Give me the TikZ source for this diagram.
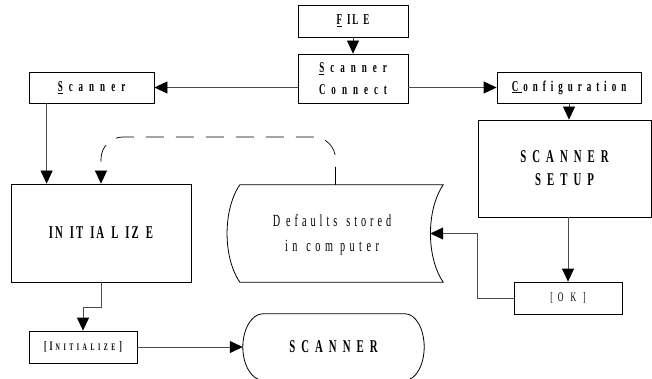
\documentclass[tikz,border=0pt]{standalone}
\usepackage{fontspec}
\setmainfont{Liberation Serif}
% narrow serif used for all labels
\newfontfamily\lblfont[FakeStretch=0.6]{Liberation Serif}
% \trk{gap}{letters}: sets the letters with a fixed gap between them
\ExplSyntaxOn
\NewDocumentCommand\trk{mm}{ \tl_map_inline:nn {#2} { ##1 \kern #1 \scan_stop: } \unkern }
\ExplSyntaxOff
\usetikzlibrary{arrows.meta,calc}

\begin{document}
\begin{tikzpicture}[x=1pt,y=-1pt,
  box/.style={draw=black, line width=0.8pt, inner sep=0pt, align=center},
  plain/.style={inner sep=0pt, align=center},
  bigbold/.style={font=\lblfont\bfseries\fontsize{18}{23}\selectfont},
  midbold/.style={font=\lblfont\bfseries\fontsize{15}{22}\selectfont},
  regtext/.style={font=\lblfont\fontsize{17}{25}\selectfont},
  tip/.style={-{Triangle[width=12pt,length=13pt,color=black]}},
  link/.style={draw=black!70, line width=0.8pt, tip},
  dashlink/.style={draw=black, line width=0.7pt, dash pattern=on 18pt off 12pt,
                   rounded corners=22pt, tip}]

\useasboundingbox (0,0) rectangle (652,379);
\fill[white] (0,0) rectangle (652,379);
\clip (0,0) rectangle (652,379);

% ---- rectangular steps ----
\node[box, midbold, minimum width=110pt, minimum height=32pt] (file) at (353,21)
  {\underline{F}\kern5pt I\kern2pt L\kern5pt E};
\node[box, midbold, minimum width=110pt, minimum height=49pt] (conn) at (353,78.5)
  {\underline{S}\kern6pt\trk{6pt}{canner}\\\trk{6pt}{Connect}};
\node[box, midbold, minimum width=125pt, minimum height=31pt] (scan) at (91.5,87.5)
  {\underline{S}\kern6pt\trk{6pt}{canner}};
\node[box, midbold, minimum width=144pt, minimum height=31pt] (conf) at (569,87.5)
  {\underline{C\kern4pt}\kern1pt\trk{5pt}{onfiguration}};
\node[box, bigbold, minimum width=173pt, minimum height=97pt] (setup) at (564.5,168.5)
  {\trk{6pt}{SCANNER}\\\trk{6pt}{SETUP}};
\node[box, bigbold, minimum width=180pt, minimum height=98pt] (init) at (101,233)
  {I\kern2pt N\kern7pt I\kern2pt T\kern7pt I\kern2pt A\kern7pt L\kern7pt I\kern2pt Z\kern7pt E};
\node[box, font=\lblfont\fontsize{13}{15}\selectfont, minimum width=108pt, minimum height=32pt] (ok) at (568,298)
  {[\kern5pt O\kern7pt K\kern7pt ]};
\node[box, font=\lblfont\bfseries\fontsize{13}{15}\selectfont, minimum width=108pt, minimum height=32pt] (initb) at (83,347)
  {[\kern3pt I{\fontsize{10}{12}\selectfont\kern3pt\trk{3.5pt}{NITIALIZE}}\kern4pt]};

% ---- stored data ----
\node[plain, minimum width=203pt, minimum height=97pt] (store) at (341.5,233.5) {};
\draw[line width=0.8pt] (store.north west) -- (store.north east)
  .. controls ($(store.north east)+(-17,25)$) and ($(store.south east)+(-17,-25)$) .. (store.south east)
  -- (store.south west)
  .. controls ($(store.south west)+(-17,-25)$) and ($(store.north west)+(-17,25)$) .. cycle;
\node[plain, regtext] (storetext) at (332,235)
  {D\kern6pt\trk{4pt}{efaults}\kern9pt\trk{4pt}{stored}\\
   \trk{4.5pt}{in}\kern9pt\trk{4.5pt}{com}\kern7pt\trk{4.5pt}{puter}};

% ---- terminator ----
\node[plain, bigbold, minimum width=181pt, minimum height=66pt] (term) at (333.5,347) {\trk{6pt}{SCANNER}};
\draw[line width=0.8pt] ($(term.north west)+(20,0)$) -- ($(term.north east)+(-19,0)$)
  .. controls ($(term.north east)+(-8.5,0)$) and ($(term.east)+(0,-18)$) .. (term.east)
  .. controls ($(term.east)+(0,18)$) and ($(term.south east)+(-8.5,0)$) .. ($(term.south east)+(-19,0)$)
  -- ($(term.south west)+(20,0)$)
  .. controls ($(term.south west)+(9,0)$) and ($(term.west)+(0,18)$) .. (term.west)
  .. controls ($(term.west)+(0,-18)$) and ($(term.north west)+(9,0)$) .. cycle;

% ---- connectors ----
\draw[link] (file.south) -- (conn.north);
\draw[link] (conn.west |- scan.east) -- (scan.east);
\draw[link] (conn.east |- conf.west) -- (conf.west);
\draw[link] (conf.south) -- (conf.south |- setup.north);
\draw[link] (ok.north |- setup.south) -- (ok.north);
\draw[link] (ok.west) -- ++(-36,0) |- ([xshift=-13pt]store.east);

\coordinate (sdrop) at ([xshift=18pt]scan.south west);
\draw[link] (sdrop) -- (sdrop |- init.north);

\coordinate (dstart) at ([xshift=-6pt]store.north);
\draw[dashlink] (dstart) -- (dstart |- 0,137) -| (init.north);

\draw[link] (init.south) -- ++(0,25) -| (initb.north);
\draw[link] (initb.east) -- (term.west);

\end{tikzpicture}
\end{document}
